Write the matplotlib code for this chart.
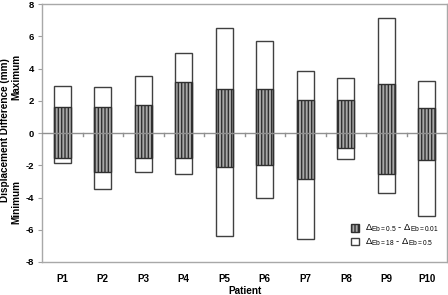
import matplotlib
matplotlib.use("Agg")
import matplotlib.pyplot as plt
import numpy as np
from matplotlib.patches import Patch

plt.rcParams['font.family'] = ['Liberation Sans', 'DejaVu Sans']
plt.rcParams['mathtext.fontset'] = 'custom'
plt.rcParams['mathtext.rm'] = 'Liberation Sans'
plt.rcParams['mathtext.it'] = 'Liberation Sans'
plt.rcParams['hatch.linewidth'] = 1.0

patients = ['P1', 'P2', 'P3', 'P4', 'P5', 'P6', 'P7', 'P8', 'P9', 'P10']
inner_max = [1.61, 1.61, 1.72, 3.15, 2.71, 2.71, 2.05, 2.05, 3.02, 1.55]
inner_min = [-1.57, -2.40, -1.57, -1.57, -2.09, -1.99, -2.88, -0.91, -2.57, -1.68]
outer_max = [2.92, 2.84, 3.52, 4.95, 6.52, 5.73, 3.83, 3.43, 7.12, 3.23]
outer_min = [-1.88, -3.49, -2.40, -2.57, -6.38, -4.00, -6.58, -1.59, -3.75, -5.16]
yticks = [-8, -6, -4, -2, 0, 2, 4, 6, 8]

fig = plt.figure(figsize=(4.48, 2.95), dpi=100)
ax = fig.add_axes([0.094, 0.112, 0.904, 0.874])

x = np.arange(len(patients))
w = 0.42
om = np.array(outer_min); oM = np.array(outer_max)
im = np.array(inner_min); iM = np.array(inner_max)

ax.bar(x, oM - om, bottom=om, width=w, color='white', edgecolor='#404040', linewidth=1.0, zorder=2)
ax.bar(x, iM - im, bottom=im, width=w, color='#a8a8a8', edgecolor='#303030', hatch='|||||', linewidth=1.0, zorder=3)

ax.axhline(0, color='#909090', linewidth=1.0, zorder=4)
for b in np.arange(len(patients) - 1) + 0.5:
    ax.plot([b, b], [0, -0.2], color='#909090', linewidth=1.0, zorder=4)

ax.set_xlim(-0.5, len(patients) - 0.5)
ax.set_ylim(-8, 8)
ax.set_yticks(yticks)
ax.set_yticklabels([str(t) for t in yticks], fontweight='bold', fontsize=6.8)
ax.set_xticks(x)
ax.set_xticklabels(patients, fontweight='bold', fontsize=7)
ax.tick_params(axis='x', length=0, pad=9)
ax.tick_params(axis='y', length=3, color='#a0a0a0', pad=3)
for s in ax.spines.values():
    s.set_color('#a8a8a8')
    s.set_linewidth(1.0)

ax.set_xlabel('Patient', fontweight='bold', fontsize=7.2, labelpad=1)
fig.text(0.012, 0.56, 'Displacement Difference (mm)', rotation=90, fontweight='bold',
         fontsize=7.2, ha='center', va='center')
fig.text(0.037, 0.74, 'Maximum', rotation=90, fontweight='bold', fontsize=7.2, ha='center', va='center')
fig.text(0.037, 0.315, 'Minimum', rotation=90, fontweight='bold', fontsize=7.2, ha='center', va='center')

handles = [Patch(facecolor='#a8a8a8', edgecolor='#303030', hatch='|||||'),
           Patch(facecolor='white', edgecolor='#404040')]
labels = [r'$\Delta_{Eb=0.5}$ - $\Delta_{Eb=0.01}$', r'$\Delta_{Eb=18}$ - $\Delta_{Eb=0.5}$']
ax.legend(handles, labels, loc='lower right', frameon=False, fontsize=6.8,
          handlelength=0.9, handleheight=0.9, handletextpad=0.6, labelspacing=0.25,
          bbox_to_anchor=(1.0, 0.02))

fig.savefig('out.png', dpi=100)
